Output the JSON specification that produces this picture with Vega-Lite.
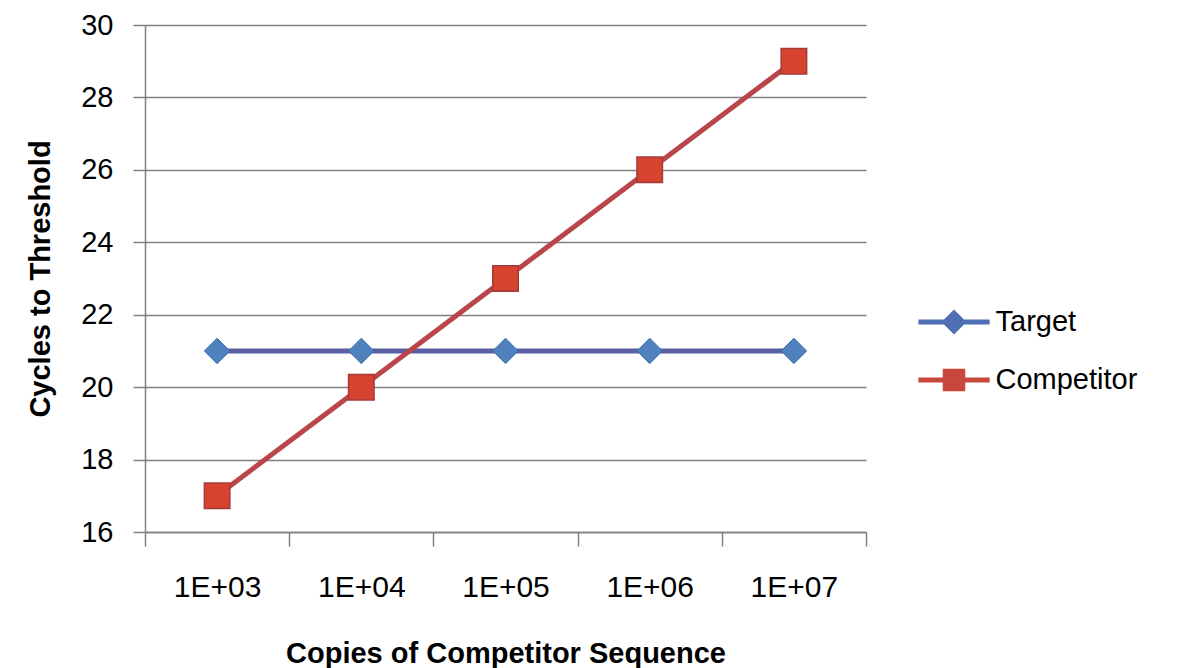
{
  "$schema": "https://vega.github.io/schema/vega-lite/v6.json",
  "width": 721,
  "height": 507,
  "autosize": "none",
  "padding": {"left": 145, "top": 25, "right": 313, "bottom": 136},
  "background": "white",
  "config": {"view": {"stroke": null}, "font": "Liberation Sans"},
  "data": {
    "values": [
      {"copies": "1E+03", "series": "Target", "cycles": 21},
      {"copies": "1E+04", "series": "Target", "cycles": 21},
      {"copies": "1E+05", "series": "Target", "cycles": 21},
      {"copies": "1E+06", "series": "Target", "cycles": 21},
      {"copies": "1E+07", "series": "Target", "cycles": 21},
      {"copies": "1E+03", "series": "Competitor", "cycles": 17},
      {"copies": "1E+04", "series": "Competitor", "cycles": 20},
      {"copies": "1E+05", "series": "Competitor", "cycles": 23},
      {"copies": "1E+06", "series": "Competitor", "cycles": 26},
      {"copies": "1E+07", "series": "Competitor", "cycles": 29}
    ]
  },
  "encoding": {
    "x": {
      "field": "copies",
      "type": "ordinal",
      "sort": ["1E+03", "1E+04", "1E+05", "1E+06", "1E+07"],
      "scale": {"type": "band", "paddingInner": 0, "paddingOuter": 0},
      "axis": {
        "title": "Copies of Competitor Sequence",
        "labelAngle": 0,
        "tickBand": "extent",
        "grid": false,
        "domainColor": "#808080",
        "domainWidth": 1.5,
        "tickColor": "#808080",
        "tickWidth": 1.5,
        "tickSize": 14,
        "labelFontSize": 30,
        "labelPadding": 26,
        "labelColor": "black",
        "titleFontSize": 29,
        "titleFontWeight": "bold",
        "titlePadding": 37,
        "titleColor": "black"
      }
    },
    "y": {
      "field": "cycles",
      "type": "quantitative",
      "scale": {"domain": [16, 30], "nice": false, "zero": false},
      "axis": {
        "title": "Cycles to Threshold",
        "values": [16, 18, 20, 22, 24, 26, 28, 30],
        "grid": true,
        "gridColor": "#808080",
        "gridWidth": 1.5,
        "domainColor": "#808080",
        "domainWidth": 1.5,
        "tickColor": "#808080",
        "tickWidth": 1.5,
        "tickSize": 12,
        "labelPadding": 20,
        "labelFontSize": 29,
        "labelColor": "black",
        "titleFontSize": 29,
        "titleFontWeight": "bold",
        "titlePadding": 25,
        "titleColor": "black"
      }
    }
  },
  "layer": [
    {
      "mark": {"type": "line", "strokeWidth": 5},
      "encoding": {
        "color": {
          "field": "series",
          "type": "nominal",
          "scale": {"domain": ["Target", "Competitor"], "range": ["#5A5EA3", "#B8464A"]},
          "legend": {
            "title": null,
            "orient": "none",
            "legendX": 794.5,
            "legendY": 282.5,
            "padding": 0,
            "symbolSize": 625,
            "labelFontSize": 29,
            "labelOffset": 27,
            "rowPadding": 28,
            "labelColor": "black",
            "encode": {
              "symbols": {
                "update": {
                  "shape": {"signal": "datum.value === 'Target' ? 'M-2.85,-0.2L2.85,-0.2L2.85,0.2L-2.85,0.2Z M0,-1L1,0L0,1L-1,0Z' : 'M-2.85,-0.2L2.85,-0.2L2.85,0.2L-2.85,0.2Z M-0.9,-0.9L0.9,-0.9L0.9,0.9L-0.9,0.9Z'"},
                  "fill": {"signal": "datum.value === 'Target' ? '#4F6FB5' : '#C8473C'"},
                  "stroke": {"value": "transparent"},
                  "strokeWidth": {"value": 0},
                  "opacity": {"value": 1}
                }
              }
            }
          }
        }
      }
    },
    {
      "transform": [{"filter": "datum.series === 'Target'"}],
      "mark": {"type": "point", "shape": "diamond", "filled": true, "size": 650, "fill": "#4F81BD", "stroke": "#3C6CB4", "strokeWidth": 1, "opacity": 1}
    },
    {
      "transform": [{"filter": "datum.series === 'Competitor'"}],
      "mark": {"type": "point", "shape": "square", "filled": true, "size": 650, "fill": "#D6432F", "stroke": "#A33A3A", "strokeWidth": 1.5, "opacity": 1}
    }
  ]
}
